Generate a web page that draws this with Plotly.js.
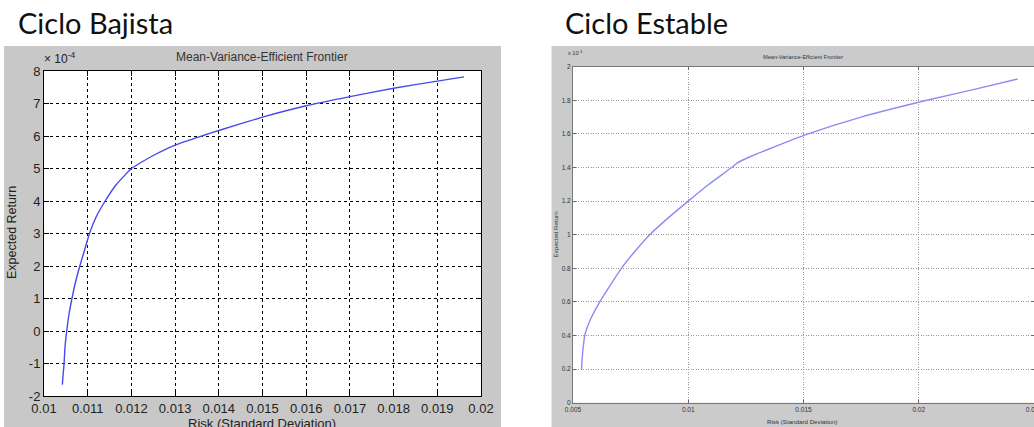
<!DOCTYPE html>
<html>
<head>
<meta charset="utf-8">
<script src="https://cdn.plot.ly/plotly-3.0.1.min.js"></script>
<style>html,body{margin:0;padding:0;background:#fff;}#chart{width:1034px;height:427px;}</style>
</head>
<body>
<div id="chart"></div>
<script>
// ---- Data ----
// Ciclo Bajista (expected return in units of 1e-4)
const bearRisk = [0.01042, 0.01044, 0.01046, 0.01048, 0.01052, 0.01057, 0.01064, 0.01072, 0.01082, 0.01093, 0.01104, 0.01119, 0.0114, 0.01165, 0.0120, 0.0122, 0.0125, 0.0130, 0.01361, 0.0140, 0.0150, 0.0160, 0.0170, 0.0180, 0.0190, 0.01961];
const bearReturn = [-1.65, -1.3, -1.0, -0.5, 0.0, 0.5, 1.0, 1.5, 2.0, 2.5, 3.0, 3.5, 4.0, 4.5, 5.0, 5.17, 5.40, 5.72, 6.0, 6.17, 6.58, 6.93, 7.21, 7.47, 7.69, 7.82];
// Ciclo Estable (expected return in units of 1e-3)
const stableRisk = [0.00537, 0.00539, 0.00542, 0.00546, 0.00551, 0.00562, 0.00577, 0.00616, 0.00662, 0.0071, 0.00768, 0.00833, 0.00913, 0.0100, 0.0109, 0.01188, 0.0121, 0.01268, 0.0135, 0.0152, 0.0175, 0.02035, 0.0225, 0.02429];
const stableReturn = [0.195, 0.25, 0.30, 0.35, 0.40, 0.45, 0.50, 0.60, 0.70, 0.80, 0.90, 1.0, 1.1, 1.2, 1.3, 1.4, 1.425, 1.464, 1.51, 1.6, 1.70, 1.8, 1.868, 1.927];

// Tick values / labels
const bearXTicks = [0.01, 0.011, 0.012, 0.013, 0.014, 0.015, 0.016, 0.017, 0.018, 0.019, 0.02];
const bearXLabels = ["0.01", "0.011", "0.012", "0.013", "0.014", "0.015", "0.016", "0.017", "0.018", "0.019", "0.02"];
const bearYTicks = [-2, -1, 0, 1, 2, 3, 4, 5, 6, 7, 8];
const bearYLabels = ["-2", "-1", "0", "1", "2", "3", "4", "5", "6", "7", "8"];
const stableXTicks = [0.005, 0.01, 0.015, 0.02, 0.025];
const stableXLabels = ["0.005", "0.01", "0.015", "0.02", "0.025"];
const stableYTicks = [0, 0.2, 0.4, 0.6, 0.8, 1.0, 1.2, 1.4, 1.6, 1.8, 2.0];
const stableYLabels = ["0", "0.2", "0.4", "0.6", "0.8", "1", "1.2", "1.4", "1.6", "1.8", "2"];

const panelTitles = ["Ciclo Bajista", "Ciclo Estable"];
const chartTitle = "Mean-Variance-Efficient Frontier";
const xTitle = "Risk (Standard Deviation)";
const yTitle = "Expected Return";
const bearExponent = "× 10<sup>-4</sup>";
const stableExponent = "x 10<sup>-3</sup>";

// ---- Layout helpers (pixel -> paper) ----
const W = 1034, H = 427;
const px = v => v / W;
const py = v => 1 - v / H;
const FONT = "Liberation Sans, Arial, sans-serif";

const traces = [
  {x: bearRisk, y: bearReturn, xaxis: 'x', yaxis: 'y', mode: 'lines',
   line: {color: 'rgb(72,72,238)', width: 1.4, shape: 'spline', smoothing: 0.4}, hoverinfo: 'skip'},
  {x: stableRisk, y: stableReturn, xaxis: 'x2', yaxis: 'y2', mode: 'lines',
   line: {color: 'rgb(140,140,242)', width: 1.4, shape: 'spline', smoothing: 0.5}, hoverinfo: 'skip'}
];

const bigTick = {family: FONT, size: 13, color: '#222'};
const smallTick = {family: FONT, size: 6.5, color: '#333'};

const layout = {
  width: W, height: H,
  margin: {l: 0, r: 0, t: 0, b: 0, pad: 0},
  paper_bgcolor: '#ffffff',
  plot_bgcolor: '#ffffff',
  showlegend: false,
  xaxis: {
    domain: [px(44), px(481)], range: [0.01, 0.02], anchor: 'y',
    tickmode: 'array', tickvals: bearXTicks, ticktext: bearXLabels,
    ticks: 'inside', ticklen: 5, tickcolor: '#000', tickfont: bigTick,
    showline: true, linecolor: '#000', linewidth: 1, mirror: 'ticks',
    showgrid: true, gridcolor: '#000', gridwidth: 1, griddash: '3px,3px',
    zeroline: false, fixedrange: true, automargin: false
  },
  yaxis: {
    domain: [py(396), py(71)], range: [-2, 8], anchor: 'x',
    tickmode: 'array', tickvals: bearYTicks, ticktext: bearYLabels,
    ticks: 'inside', ticklen: 5, tickcolor: '#000', tickfont: bigTick,
    showline: true, linecolor: '#000', linewidth: 1, mirror: 'ticks',
    showgrid: true, gridcolor: '#000', gridwidth: 1, griddash: '3px,3px',
    zeroline: false, fixedrange: true, automargin: false
  },
  xaxis2: {
    domain: [px(573), 1], range: [0.005, 0.025], anchor: 'y2',
    tickmode: 'array', tickvals: stableXTicks, ticktext: stableXLabels,
    ticks: 'inside', ticklen: 3, tickcolor: '#666', tickfont: smallTick,
    ticklabeloverflow: 'allow',
    showline: true, linecolor: '#777', linewidth: 1, mirror: 'ticks',
    showgrid: true, gridcolor: '#999', gridwidth: 1, griddash: '1px,1.5px',
    zeroline: false, fixedrange: true, automargin: false
  },
  yaxis2: {
    domain: [py(402.7), py(66.7)], range: [0, 2], anchor: 'x2',
    tickmode: 'array', tickvals: stableYTicks, ticktext: stableYLabels,
    ticks: 'inside', ticklen: 3, tickcolor: '#666', tickfont: smallTick,
    ticklabeloverflow: 'allow',
    showline: true, linecolor: '#777', linewidth: 1, mirror: 'ticks',
    showgrid: true, gridcolor: '#999', gridwidth: 1, griddash: '1px,1.5px',
    zeroline: false, fixedrange: true, automargin: false
  },
  shapes: [
    {type: 'rect', xref: 'paper', yref: 'paper', layer: 'below',
     x0: px(4), x1: px(501), y0: py(430), y1: py(46), fillcolor: '#c8c8c8', line: {width: 0}},
    {type: 'rect', xref: 'paper', yref: 'paper', layer: 'below',
     x0: px(551.5), x1: px(1040), y0: py(430), y1: py(46), fillcolor: '#cbcbcb', line: {width: 0}},
    {type: 'rect', xref: 'x domain', yref: 'y domain', layer: 'below',
     x0: 0, x1: 1, y0: 0, y1: 1, fillcolor: '#ffffff', line: {width: 0}},
    {type: 'rect', xref: 'x2 domain', yref: 'y2 domain', layer: 'below',
     x0: 0, x1: 1.02, y0: 0, y1: 1, fillcolor: '#ffffff', line: {width: 0}}
  ],
  annotations: [
    {text: panelTitles[0], xref: 'paper', yref: 'paper', x: px(16), y: py(23), xanchor: 'left', yanchor: 'middle',
     showarrow: false, font: {family: 'Lato, Carlito, sans-serif', size: 29, color: '#111'}},
    {text: panelTitles[1], xref: 'paper', yref: 'paper', x: px(563), y: py(23), xanchor: 'left', yanchor: 'middle',
     showarrow: false, font: {family: 'Lato, Carlito, sans-serif', size: 29, color: '#111'}},
    {text: chartTitle, xref: 'paper', yref: 'paper', x: px(262), y: py(57), xanchor: 'center', yanchor: 'middle',
     showarrow: false, font: {family: FONT, size: 12, color: '#333'}},
    {text: chartTitle, xref: 'paper', yref: 'paper', x: px(803), y: py(57), xanchor: 'center', yanchor: 'middle',
     showarrow: false, font: {family: FONT, size: 5.6, color: '#333'}},
    {text: bearExponent, xref: 'paper', yref: 'paper', x: px(42), y: py(58), xanchor: 'left', yanchor: 'middle',
     showarrow: false, font: {family: FONT, size: 12, color: '#222'}},
    {text: stableExponent, xref: 'paper', yref: 'paper', x: px(566), y: py(52), xanchor: 'left', yanchor: 'middle',
     showarrow: false, font: {family: FONT, size: 5.6, color: '#333'}},
    {text: xTitle, xref: 'paper', yref: 'paper', x: px(262), y: py(423), xanchor: 'center', yanchor: 'middle',
     showarrow: false, font: {family: FONT, size: 13, color: '#222'}},
    {text: yTitle, xref: 'paper', yref: 'paper', x: px(12), y: py(233), xanchor: 'center', yanchor: 'middle',
     textangle: -90, showarrow: false, font: {family: FONT, size: 12.5, color: '#222'}},
    {text: xTitle, xref: 'paper', yref: 'paper', x: px(802), y: py(421.5), xanchor: 'center', yanchor: 'middle',
     showarrow: false, font: {family: FONT, size: 6.2, color: '#333'}},
    {text: yTitle, xref: 'paper', yref: 'paper', x: px(555), y: py(234.5), xanchor: 'center', yanchor: 'middle',
     textangle: -90, showarrow: false, font: {family: FONT, size: 6.2, color: '#333'}}
  ]
};

Plotly.newPlot('chart', traces, layout, {displayModeBar: false, staticPlot: true});
</script>
</body>
</html>
